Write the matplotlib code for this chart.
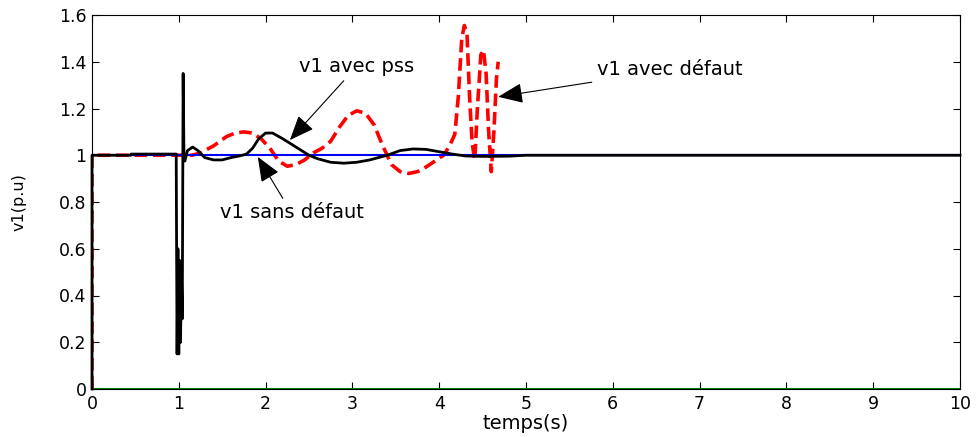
import matplotlib
matplotlib.use("Agg")
import matplotlib.pyplot as plt

plt.rcParams['font.family'] = ['DejaVu Sans']

# v1 avec pss (black)
t_pss = [0, 0, 0.45, 0.45, 0.97, 0.98, 0.99, 1.00, 1.01, 1.02, 1.03, 1.04, 1.05, 1.06,
         1.07, 1.1, 1.16, 1.22, 1.3, 1.4, 1.5, 1.6, 1.7, 1.78, 1.85, 1.92, 2.0, 2.08,
         2.2, 2.35, 2.5, 2.6, 2.75, 2.9, 3.05, 3.2, 3.4, 3.55, 3.7, 3.85, 4.0, 4.15,
         4.3, 4.5, 4.8, 5.0, 10]
v_pss = [0, 1, 1, 1.005, 1.005, 0.15, 0.6, 0.15, 0.55, 0.2, 0.5, 0.3, 1.35, 0.98,
         0.975, 1.02, 1.035, 1.02, 0.99, 0.98, 0.98, 0.99, 0.997, 1.005, 1.03, 1.07, 1.095, 1.095,
         1.07, 1.035, 1.0, 0.985, 0.97, 0.966, 0.97, 0.98, 1.0, 1.02, 1.027, 1.025, 1.015, 1.005,
         0.997, 0.995, 0.996, 1.0, 1.0]

# v1 avec défaut (red dashed)
t_def = [0, 0, 1.15, 1.25, 1.4, 1.55, 1.65, 1.75, 1.85, 1.95, 2.05, 2.15, 2.25, 2.35,
         2.45, 2.55, 2.65, 2.75, 2.85, 2.95, 3.05, 3.15, 3.25, 3.35, 3.45, 3.55, 3.65,
         3.75, 3.85, 3.95, 4.05, 4.12, 4.18, 4.22, 4.26, 4.29, 4.32, 4.35, 4.38, 4.41,
         4.44, 4.48, 4.51, 4.54, 4.57, 4.6, 4.63, 4.66, 4.68]
v_def = [0, 1, 1.0, 1.01, 1.04, 1.08, 1.095, 1.10, 1.095, 1.07, 1.03, 0.975, 0.953, 0.96,
         0.98, 1.01, 1.03, 1.06, 1.12, 1.17, 1.19, 1.18, 1.13, 1.04, 0.96, 0.93, 0.922,
         0.93, 0.95, 0.975, 1.0, 1.04, 1.09, 1.25, 1.5, 1.555, 1.52, 1.25, 1.05, 0.98,
         1.2, 1.43, 1.45, 1.35, 1.1, 0.93, 1.1, 1.33, 1.40]

# v1 sans défaut (blue) and baseline (green)
t_ref = [0, 10]
v_ref = [1, 1]
t_zero = [0, 10]
v_zero = [0, 0]

fig = plt.figure(figsize=(9.78, 4.37), dpi=100)
ax = fig.add_axes([92/978, 1-389/437, 868/978, 374/437])

ax.plot(t_zero, v_zero, color='#008000', lw=1.5)
ax.plot(t_def, v_def, color='red', lw=2.6, ls=(0, (3.5, 1.6)))
ax.plot(t_ref, v_ref, color='blue', lw=1.5)
ax.plot(t_pss, v_pss, color='black', lw=2.0, clip_on=False)

ax.set_xlim(0, 10)
ax.set_ylim(0, 1.6)
ax.set_xticks(range(0, 11))
ax.set_yticks([0, 0.2, 0.4, 0.6, 0.8, 1, 1.2, 1.4, 1.6])
ax.set_yticklabels(['0', '0.2', '0.4', '0.6', '0.8', '1', '1.2', '1.4', '1.6'])
ax.tick_params(direction='in', top=True, right=True, labelsize=12.5, length=5, pad=4)
ax.set_xlabel('temps(s)', fontsize=14)
ax.set_ylabel('v1(p.u)', fontsize=11.5)
ax.xaxis.set_label_coords(0.5, -0.068)
ax.yaxis.set_label_coords(-0.075, 0.5)

arrow = dict(arrowstyle='-|>,head_length=1.1,head_width=0.45', color='black', lw=0.8,
             shrinkA=2, shrinkB=0)
ax.annotate('v1 avec pss', xy=(2.28, 1.065), xytext=(3.05, 1.38), fontsize=14,
            ha='center', va='center', arrowprops=arrow)
ax.annotate('v1 sans défaut', xy=(1.91, 0.993), xytext=(2.30, 0.753), fontsize=14,
            ha='center', va='center', arrowprops=arrow)
ax.annotate('v1 avec défaut', xy=(4.68, 1.25), xytext=(6.66, 1.365), fontsize=14,
            ha='center', va='center', arrowprops=arrow)

fig.savefig('out.png', dpi=100)
